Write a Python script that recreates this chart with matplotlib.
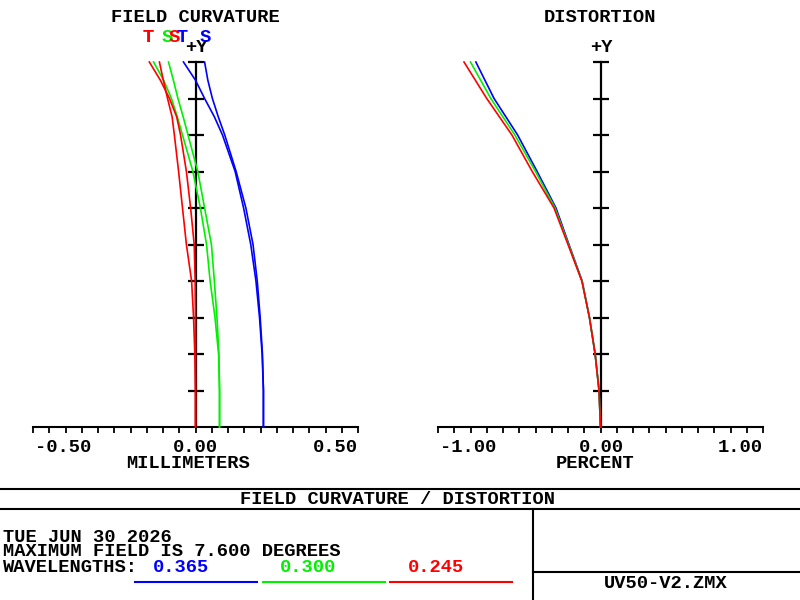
import matplotlib
matplotlib.use('Agg')
import matplotlib.pyplot as plt
from matplotlib.ticker import MultipleLocator, NullFormatter

# ---------------- data ----------------
field = [0.0, 0.1, 0.2, 0.3, 0.4, 0.5, 0.6, 0.7, 0.8, 0.85, 0.9, 0.95, 1.0]
# field curvature (millimeters)
fc_blue_t = [0.209, 0.209, 0.205, 0.197, 0.186, 0.170, 0.148, 0.122, 0.083, 0.058, 0.028, 0.000, -0.037]
fc_blue_s = [0.209, 0.209, 0.206, 0.199, 0.190, 0.177, 0.155, 0.125, 0.090, 0.070, 0.052, 0.038, 0.028]
fc_green_t = [0.074, 0.074, 0.071, 0.060, 0.045, 0.034, 0.015, -0.008, -0.040, -0.056, -0.074, -0.098, -0.129]
fc_green_s = [0.074, 0.074, 0.072, 0.066, 0.058, 0.049, 0.028, 0.007, -0.023, -0.038, -0.054, -0.068, -0.083]
fc_red_t = [0.0, 0.0, 0.0, 0.0, -0.001, -0.004, -0.015, -0.028, -0.046, -0.058, -0.080, -0.108, -0.142]
fc_red_s = [0.0, 0.0, -0.002, -0.006, -0.012, -0.028, -0.040, -0.052, -0.065, -0.072, -0.086, -0.099, -0.111]

dist_field = [0.0, 0.1, 0.2, 0.3, 0.4, 0.5, 0.6, 0.7, 0.8, 0.9, 1.0]
# distortion (percent)
dist_blue = [0.0, -0.009, -0.033, -0.068, -0.113, -0.194, -0.274, -0.390, -0.510, -0.655, -0.767]
dist_green = [0.0, -0.009, -0.033, -0.068, -0.114, -0.197, -0.280, -0.400, -0.527, -0.675, -0.800]
dist_red = [0.0, -0.009, -0.033, -0.068, -0.115, -0.200, -0.286, -0.420, -0.545, -0.700, -0.840]

wavelengths = ['0.365', '0.300', '0.245']
colors = ['#0000ff', '#00f000', '#ff0000']

fc_ticks = ['-0.50', '0.00', '0.50']
dist_ticks = ['-1.00', '0.00', '1.00']

# ---------------- figure ----------------
W, H = 800, 600
fig = plt.figure(figsize=(8, 6), dpi=100)
FONT = dict(family='Liberation Mono', fontsize=13.5, fontweight='bold')


def fig_rect(x0, y_top, x1, y_bot):
    return [x0 / W, 1 - y_bot / H, (x1 - x0) / W, (y_bot - y_top) / H]


def style_axis(ax, xmin, xmax, step, half_px):
    ax.set_xlim(xmin, xmax)
    ax.set_ylim(0, 1)
    for s in ['top', 'left', 'right']:
        ax.spines[s].set_visible(False)
    ax.spines['bottom'].set_linewidth(1.5)
    ax.xaxis.set_major_locator(MultipleLocator(step))
    ax.xaxis.set_major_formatter(NullFormatter())
    ax.tick_params(axis='x', direction='out', length=4.5, width=1.3, color='black')
    ax.set_yticks([])
    ax.patch.set_alpha(0)
    # vertical field axis
    ax.plot([0, 0], [0, 1], color='black', lw=1.6, zorder=1, clip_on=False)
    ax.plot([0] * 10, [i / 10 for i in range(1, 11)], linestyle='none',
            marker='_', markersize=half_px * 2 * 0.72, markeredgewidth=1.6,
            color='black', zorder=1, clip_on=False)


# field curvature axes
ax1 = fig.add_axes(fig_rect(33, 62, 358, 427))
style_axis(ax1, -0.5, 0.5, 0.05, 8)
for t, s, c in [(fc_blue_t, fc_blue_s, colors[0]),
                (fc_green_t, fc_green_s, colors[1]),
                (fc_red_t, fc_red_s, colors[2])]:
    ax1.plot(t, field, color=c, lw=1.2, zorder=3, clip_on=False)
    ax1.plot(s, field, color=c, lw=1.2, zorder=3, clip_on=False)

# distortion axes
ax2 = fig.add_axes(fig_rect(438, 62, 763, 427))
style_axis(ax2, -1.0, 1.0, 0.1, 8)
for d, c in [(dist_blue, colors[0]), (dist_green, colors[1]), (dist_red, colors[2])]:
    ax2.plot(d, dist_field, color=c, lw=1.2, zorder=3, clip_on=False)

# overlay in pixel coordinates for text and frame
ov = fig.add_axes([0, 0, 1, 1])
ov.set_xlim(0, W)
ov.set_ylim(H, 0)
ov.axis('off')
ov.patch.set_alpha(0)


def txt(x, y, s, ha='left', color='black', **kw):
    ov.text(x, y, s, ha=ha, va='center', color=color, **FONT, **kw)


# titles
txt(195, 18, 'FIELD CURVATURE', ha='center')
txt(600, 18, 'DISTORTION', ha='center')
txt(196, 47, '+Y', ha='center')
txt(601, 47, '+Y', ha='center')

# T / S labels
txt(148, 38, 'T', ha='center', color=colors[1])
txt(148, 38, 'T', ha='center', color=colors[2])
txt(167, 38, 'S', ha='center', color=colors[1])
txt(174, 38, 'S', ha='center', color=colors[2])
txt(182, 38, 'T', ha='center', color=colors[0])
txt(205, 38, 'S', ha='center', color=colors[0])

# tick labels
txt(35, 447, fc_ticks[0], ha='left')
txt(195, 447, fc_ticks[1], ha='center')
txt(358, 447, fc_ticks[2], ha='right')
txt(188, 464, 'MILLIMETERS', ha='center')

txt(440, 447, dist_ticks[0], ha='left')
txt(601, 447, dist_ticks[1], ha='center')
txt(763, 447, dist_ticks[2], ha='right')
txt(595, 464, 'PERCENT', ha='center')

# bottom frame
lw = 1.5
ov.plot([0, W], [489, 489], color='black', lw=lw)
ov.plot([0, W], [509, 509], color='black', lw=lw)
ov.plot([533, 533], [509, H], color='black', lw=lw)
ov.plot([533, W], [572, 572], color='black', lw=lw)

txt(397, 499, 'FIELD CURVATURE / DISTORTION', ha='center')
txt(3, 537, 'TUE JUN 30 2026')
txt(3, 552, 'MAXIMUM FIELD IS 7.600 DEGREES')
txt(3, 567, 'WAVELENGTHS:')
txt(666, 584, 'UV50-V2.ZMX', ha='center')

wl_text_x = [153, 280, 408]
wl_line = [(135, 257), (263, 385), (390, 512)]
for wl, c, tx, (a, b) in zip(wavelengths, colors, wl_text_x, wl_line):
    txt(tx, 567, wl, color=c)
    ov.plot([a, b], [582, 582], color=c, lw=1.5)

fig.savefig('out.png', dpi=100)
